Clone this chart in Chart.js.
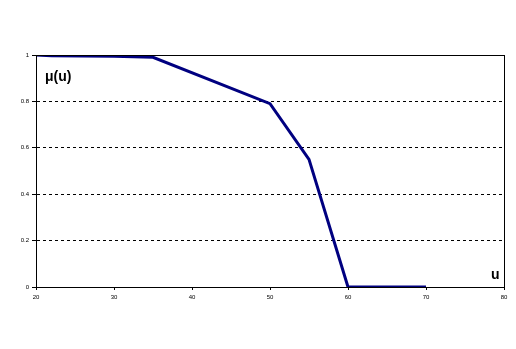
<!DOCTYPE html>
<html>
<head>
<meta charset="utf-8">
<script src="https://cdn.jsdelivr.net/npm/chart.js@4"></script>
<style>
  html, body { margin: 0; padding: 0; background: #fff; }
  #wrap { width: 516px; height: 349px; }
</style>
</head>
<body>
<div id="wrap"><canvas id="muChart" width="516" height="349"></canvas></div>
<script>
// membership function values
const uValues = [20, 22, 30, 35, 50, 55, 60, 62, 64, 66, 68, 70];
const muValues = [1, 0.997, 0.995, 0.99, 0.79, 0.55, 0, 0, 0, 0, 0, 0];
const xTicks = [20, 30, 40, 50, 60, 70, 80];
const yTicks = [0, 0.2, 0.4, 0.6, 0.8, 1];

// frame round the plot area plus the two axis captions
const framePlugin = {
  id: 'frame',
  afterDraw(chart) {
    const { ctx, chartArea: a } = chart;
    ctx.save();
    ctx.strokeStyle = '#000';
    ctx.lineWidth = 1;
    ctx.strokeRect(a.left + 0.5, a.top + 0.5, a.right - a.left, a.bottom - a.top);
    ctx.fillStyle = '#000';
    ctx.font = 'bold 14px "Liberation Sans", Arial, sans-serif';
    ctx.textBaseline = 'alphabetic';
    ctx.fillText('μ(u)', a.left + 9, a.top + 26);
    ctx.fillText('u', a.right - 13, a.bottom - 8);
    ctx.restore();
  }
};

const ctx = document.getElementById('muChart').getContext('2d');
new Chart(ctx, {
  type: 'line',
  data: {
    datasets: [{
      data: uValues.map((u, i) => ({ x: u, y: muValues[i] })),
      borderColor: '#000080',
      borderWidth: 3,
      pointRadius: 0,
      fill: false,
      tension: 0
    }]
  },
  options: {
    responsive: false,
    animation: false,
    layout: { padding: { left: 0, top: 55, right: 12, bottom: 0 } },
    plugins: { legend: { display: false }, tooltip: { enabled: false } },
    scales: {
      x: {
        type: 'linear',
        min: 20,
        max: 80,
        afterBuildTicks(scale) { scale.ticks = xTicks.map(v => ({ value: v })); },
        afterFit(scale) { scale.height = 62; },
        ticks: { color: '#000', font: { size: 6, family: 'Liberation Sans' }, padding: 4, maxRotation: 0 },
        grid: { drawOnChartArea: false, drawTicks: true, tickLength: 3, color: '#000' },
        border: { color: '#000', width: 1 }
      },
      y: {
        min: 0,
        max: 1,
        afterBuildTicks(scale) { scale.ticks = yTicks.map(v => ({ value: v })); },
        afterFit(scale) { scale.width = 36; },
        ticks: { color: '#000', font: { size: 6, family: 'Liberation Sans' }, padding: 3,
          callback: v => String(Math.round(v * 10) / 10) },
        grid: { color: '#000', lineWidth: 1, drawTicks: true, tickLength: 4, tickBorderDash: [] },
        border: { color: '#000', width: 1, dash: [3, 3] }
      }
    }
  },
  plugins: [framePlugin]
});
</script>
</body>
</html>
